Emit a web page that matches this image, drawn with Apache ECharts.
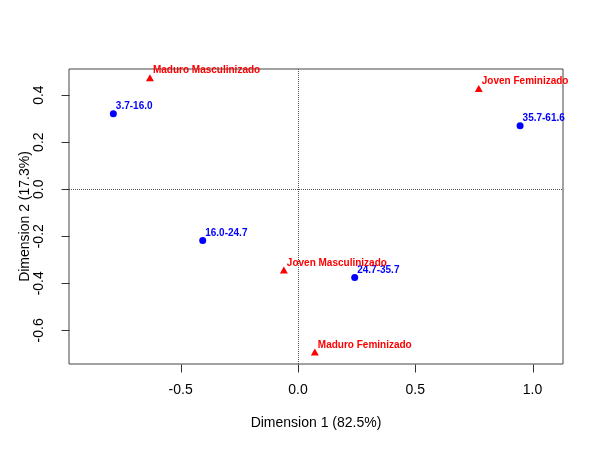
<!DOCTYPE html>
<html>
<head>
<meta charset="utf-8">
<script src="https://cdn.jsdelivr.net/npm/echarts@6/dist/echarts.min.js"></script>
<style>
  html, body { margin: 0; padding: 0; background: #fff; }
  #chart { width: 600px; height: 450px; }
</style>
</head>
<body>
<div id="chart"></div>
<script>
// filas (rangos) y columnas (perfiles)
const rowLabels = ['3.7-16.0', '16.0-24.7', '24.7-35.7', '35.7-61.6'];
const rowX = [-0.787, -0.406, 0.242, 0.947];
const rowY = [0.321, -0.218, -0.375, 0.270];

const colLabels = ['Maduro Masculinizado', 'Joven Feminizado', 'Joven Masculinizado', 'Maduro Feminizado'];
const colX = [-0.631, 0.771, -0.060, 0.072];
const colY = [0.474, 0.428, -0.343, -0.692];

const xTicks = [-0.5, 0, 0.5, 1.0];
const yTicks = [-0.6, -0.4, -0.2, 0, 0.2, 0.4];

const xMin = -0.976, xMax = 1.130;
const yMin = -0.743, yMax = 0.511;

const fontFam = '"Liberation Sans", Arial, sans-serif';

const chart = echarts.init(document.getElementById('chart'));

const mkPoints = (xs, ys, names) => xs.map((x, i) => ({ value: [x, ys[i]], name: names[i] }));

const ptLabel = (color) => ({
  show: true,
  formatter: '{b}',
  position: 'right',
  distance: 0,
  offset: [-1, -7],
  color: color,
  fontFamily: fontFam,
  fontWeight: 'bold',
  fontSize: 10
});

chart.setOption({
  animation: false,
  grid: {
    left: 69, right: 37, top: 69, bottom: 86,
    show: true, borderColor: '#444', borderWidth: 1
  },
  xAxis: {
    type: 'value',
    min: xMin, max: xMax,
    name: 'Dimension 1 (82.5%)',
    nameLocation: 'middle',
    nameGap: 52,
    nameTextStyle: { fontFamily: fontFam, fontSize: 14, color: '#000' },
    axisLine: { show: false, onZero: false },
    splitLine: { show: false },
    axisTick: { show: false },
    axisLabel: {
      customValues: xTicks, margin: 19,
      formatter: v => v.toFixed(1),
      fontFamily: fontFam, fontSize: 14, color: '#000'
    }
  },
  yAxis: {
    type: 'value',
    min: yMin, max: yMax,
    name: 'Dimension 2 (17.3%)',
    nameLocation: 'middle',
    nameGap: 37,
    nameMoveOverlap: false,
    nameTextStyle: { fontFamily: fontFam, fontSize: 14, color: '#000' },
    axisLine: { show: false, onZero: false },
    splitLine: { show: false },
    axisTick: { show: false },
    axisLabel: {
      customValues: yTicks, margin: 23, rotate: 90,
      formatter: v => v.toFixed(1),
      fontFamily: fontFam, fontSize: 14, color: '#000'
    }
  },
  series: [
    {
      name: 'filas',
      type: 'scatter',
      symbol: 'circle',
      symbolSize: 7,
      itemStyle: { color: '#0000FF', opacity: 1 },
      label: ptLabel('#0000FF'),
      data: mkPoints(rowX, rowY, rowLabels),
      markLine: {
        silent: true,
        symbol: 'none',
        label: { show: false },
        lineStyle: { color: '#555', type: 'dotted', width: 1 },
        data: [{ xAxis: 0 }, { yAxis: 0 }]
      }
    },
    {
      name: 'columnas',
      type: 'scatter',
      symbol: 'triangle',
      symbolSize: [8, 7],
      itemStyle: { color: '#FF0000', opacity: 1 },
      label: ptLabel('#FF0000'),
      data: mkPoints(colX, colY, colLabels)
    }
  ]
});

// marcas de eje hacia fuera (estilo R), posicionadas con la escala del gráfico
const tickLine = (pt, horiz) => {
  const x = Math.round(pt[0]) + 0.5, y = Math.round(pt[1]) + 0.5;
  return {
    type: 'line',
    silent: true,
    z: 100,
    shape: horiz ? { x1: x, y1: y, x2: x, y2: y + 8 } : { x1: x, y1: y, x2: x - 8, y2: y },
    style: { stroke: '#333', lineWidth: 1 }
  };
};

const ticks = [
  ...xTicks.map(v => tickLine(chart.convertToPixel({ gridIndex: 0 }, [v, yMin]), true)),
  ...yTicks.map(v => tickLine(chart.convertToPixel({ gridIndex: 0 }, [xMin, v]), false))
];
chart.setOption({ graphic: { elements: ticks } });

window.addEventListener('resize', () => chart.resize());
</script>
</body>
</html>
